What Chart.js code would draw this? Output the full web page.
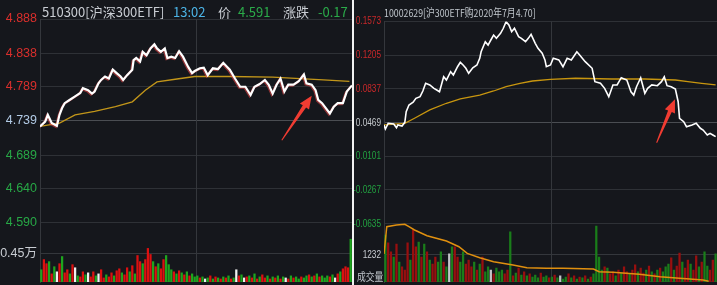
<!DOCTYPE html>
<html>
<head>
<meta charset="utf-8">
<script src="https://cdn.jsdelivr.net/npm/chart.js@4.4.1/dist/chart.umd.min.js"></script>
<style>
  body { margin: 0; background: #15171c; width: 717px; height: 285px; overflow: hidden; position: relative; }
  .panel { position: absolute; top: 0; height: 285px; overflow: hidden; }
  .t { position: absolute; white-space: nowrap; font-family: "Noto Sans CJK SC", "Noto Sans", sans-serif; }
</style>
</head>
<body>
<div class="panel" style="left:0;width:352px">
  <canvas id="leftChart" width="352" height="285"></canvas>
  <span class="t" style="left:42px;top:2px;font-size:13px;color:#c9cdd3">510300[沪深300ETF]</span>
  <span class="t" style="left:173px;top:2px;font-size:13px;color:#4cb4e6">13:02</span>
  <span class="t" style="left:218px;top:2px;font-size:13px;color:#c9cdd3">价</span>
  <span class="t" style="left:238px;top:2px;font-size:13px;color:#2bab4a">4.591</span>
  <span class="t" style="left:283px;top:2px;font-size:13px;color:#c9cdd3">涨跌</span>
  <span class="t" style="left:318px;top:2px;font-size:13px;color:#2bab4a">-0.17</span>
</div>
<div style="position:absolute;left:352px;top:0;width:2px;height:285px;background:#f2f2f2"></div>
<div class="panel" style="left:354px;width:363px">
  <canvas id="rightChart" width="363" height="285"></canvas>
  <span class="t" style="left:30px;top:4px;font-size:11px;color:#c0c6cc;transform:scaleX(0.8);transform-origin:left">10002629[沪300ETF购2020年7月4.70]</span>
  <span class="t" style="left:3px;top:268px;font-size:11px;color:#c0c6cc;transform:scaleX(0.8);transform-origin:left">成交量</span>
</div>
<script>
// ---- 510300 沪深300ETF 分时 ----
const leftPreClose = 4.739;
const leftTicks = [4.888, 4.838, 4.789, 4.739, 4.689, 4.640, 4.590];
const leftMin = [0,4,6,9,13,15,17,19,23,27,31,33,37,40,42,45,47,50,53,56,59,62,64,67,71,72,74,77,79,82,85,88,90,93,96,98,101,104,107,110,114,117,119,123,126,129,133,137,141,144,146,150,154,158,162,165,169,173,176,179,182,185,188,191,195,199,203,205,209,212,214,217,219,223,226,229,233,236,240];
const leftPrice = [4.731,4.738,4.748,4.736,4.732,4.748,4.758,4.765,4.770,4.775,4.780,4.787,4.784,4.779,4.782,4.794,4.799,4.804,4.801,4.814,4.809,4.804,4.799,4.806,4.814,4.828,4.831,4.826,4.840,4.835,4.845,4.851,4.845,4.840,4.845,4.831,4.833,4.831,4.841,4.833,4.818,4.809,4.812,4.816,4.817,4.806,4.816,4.815,4.824,4.818,4.814,4.801,4.789,4.789,4.777,4.789,4.793,4.799,4.792,4.779,4.792,4.801,4.782,4.792,4.792,4.797,4.807,4.794,4.792,4.784,4.770,4.765,4.760,4.750,4.760,4.765,4.765,4.782,4.791];
const leftAvgMin = [0,15,27,42,58,71,81,90,104,119,146,179,200,218,238];
const leftAvg = [4.731,4.736,4.748,4.753,4.760,4.767,4.784,4.796,4.800,4.804,4.804,4.803,4.801,4.799,4.797];
// 成交量, 每2分钟一根
const leftVol = [1900,3480,2840,3160,1260,2370,1580,2840,3950,1420,
  1900,1260,2690,2210,950,790,1580,1110,1420,790,
  1580,950,1260,1900,630,1110,790,1420,950,1740,
  2050,1420,1110,2210,1580,2530,1260,4110,3160,2840,
  3480,5210,4270,3160,2370,2840,2050,3480,4110,2690,
  1900,1580,1260,1740,1420,1110,1580,950,1260,790,
  950,630,790,470,630,950,470,790,630,470,
  790,630,950,470,630,1900,950,1110,630,790,
  950,630,1260,470,790,1110,630,950,470,790,
  630,950,470,790,630,470,950,630,790,470,
  790,630,950,1110,790,950,1260,790,950,630,
  950,790,1110,630,1260,1580,2050,2370,2210,6640];
// r = 涨, g = 跌, w = 平
const leftDir = ('grrgrgwrgr' + 'rgrwgrrgwr' + 'rgwrrgrrgr' + 'rgrrgrgrrg' + 'rrrgrgrrgg' +
  'grgrgrgrgg' + 'grgwgrgrgr' + 'grgrgwrgwr' + 'grgrgrrgrg' + 'rgrgwrgrgg' +
  'rggrgrgrgg' + 'grgwrgrrrg').split('');
const leftVolTick = 4500, leftVolLabel = '0.45万';
const leftArrow = { from: [186, 4.711], to: [209, 4.776] };

// ---- 10002629 沪300ETF购2020年7月4.70 ----
const rightPreClose = 0.0469;
const rightTicks = [0.1573, 0.1205, 0.0837, 0.0469, 0.0101, -0.0267, -0.0635];
const rightMin = [0,1,3,7,9,10,13,15,16,18,21,23,26,28,30,33,36,38,40,43,45,48,50,53,55,57,59,61,64,67,69,70,73,75,77,79,81,84,86,88,90,92,94,97,99,102,104,106,109,111,114,116,117,120,122,126,129,132,135,139,141,145,150,152,156,159,162,165,168,171,175,178,180,182,185,188,190,193,197,200,202,204,207,210,212,213,216,218,222,225,228,230,233,235,237,239];
const rightPrice = [0.0442,0.0398,0.0460,0.0453,0.0412,0.0442,0.0431,0.0471,0.0587,0.0660,0.0690,0.0733,0.0751,0.0813,0.0897,0.0879,0.0842,0.0824,0.0805,0.0969,0.0933,0.1024,0.0988,0.1078,0.1126,0.1097,0.1061,0.1006,0.1067,0.1097,0.1170,0.1242,0.1351,0.1315,0.1370,0.1424,0.1388,0.1443,0.1498,0.1570,0.1534,0.1461,0.1498,0.1406,0.1388,0.1351,0.1388,0.1432,0.1334,0.1279,0.1225,0.1152,0.1078,0.1097,0.1170,0.1152,0.1078,0.1170,0.1152,0.1242,0.1206,0.1133,0.1061,0.0915,0.0897,0.0842,0.0751,0.0879,0.0879,0.0958,0.0933,0.0805,0.0769,0.0860,0.0958,0.0788,0.0842,0.0879,0.0871,0.0915,0.0969,0.0871,0.0860,0.0835,0.0696,0.0515,0.0478,0.0423,0.0442,0.0460,0.0406,0.0387,0.0333,0.0351,0.0333,0.0314];
const rightAvgMin = [0,15,22,33,45,55,69,79,88,98,107,120,138,164,188,210,219,229,239];
const rightAvg = [0.0442,0.0460,0.0515,0.0606,0.0679,0.0726,0.0769,0.0813,0.0860,0.0897,0.0922,0.0941,0.0952,0.0944,0.0944,0.0933,0.0915,0.0897,0.0879];
// 持仓量
const rightOiMin = [0,2,9,15,18,22,31,45,54,60,69,79,93,103,117,129,151,155,165,184,199,213,230,234];
const rightOi = [1400,2760,2845,2880,2760,2595,2310,2046,1760,1430,1210,1013,848,714,684,684,649,514,484,384,264,185,100,40];
const rightVol = [2090,1740,1340,1110,1690,890,670,530,1740,980,
  2310,1560,1780,1110,1690,1340,980,800,1110,890,
  1340,890,670,1250,1560,1560,1110,890,1340,800,
  980,670,890,530,800,1110,450,670,530,360,
  620,450,530,360,530,2230,270,400,620,310,
  450,270,360,220,310,180,400,220,270,180,
  220,310,180,270,130,220,360,180,270,130,
  220,180,270,130,220,360,2490,1110,530,670,
  620,360,450,270,530,400,670,450,360,530,
  760,450,620,400,530,710,450,360,530,620,
  450,670,800,1070,530,710,1290,890,620,980,
  800,530,1160,670,890,1340,710,530,980,1250];
const rightDir = ('grrgrgrrrg' + 'rrgrgrgrrg' + 'grgwgrrggr' + 'rrgrgrggwr' + 'gggrrgrgrg' +
  'rgrgggrggr' + 'grgwggrgrg' + 'rgrgrggggr' + 'grrgrgrrgr' + 'rgrrgrgrgr' +
  'gggrgrrgrr' + 'grrgrggrrg').split('');
const rightVolTick = 1232, rightVolLabel = '1232';
const rightArrow = { from: [196.5, 0.0248], to: [209.7, 0.0722] };

const pts = (xs, ys) => xs.map((x, i) => ({ x: x, y: ys[i] }));
const bars = vs => vs.map((v, i) => ({ x: 2 * i + 1, y: v }));

function drawArrow(ctx, x0, y0, x1, y1) {
  const dx = x1 - x0, dy = y1 - y0, len = Math.hypot(dx, dy);
  const ux = dx / len, uy = dy / len, nx = -uy, ny = ux;
  const headLen = 13, headW = 5.5;
  const bx = x1 - ux * headLen, by = y1 - uy * headLen;
  ctx.beginPath();
  ctx.moveTo(x0 + nx * 0.5, y0 + ny * 0.5);
  ctx.lineTo(bx + nx * 2, by + ny * 2);
  ctx.lineTo(bx + nx * headW, by + ny * headW);
  ctx.lineTo(x1, y1);
  ctx.lineTo(bx - nx * headW, by - ny * headW);
  ctx.lineTo(bx - nx * 2, by - ny * 2);
  ctx.lineTo(x0 - nx * 0.5, y0 - ny * 0.5);
  ctx.closePath();
  ctx.fill();
}

// 中线, 成交量刻度线, 箭头, 价格线红色描边, 压缩的刻度文字
const decor = {
  id: 'decor',
  beforeDatasetsDraw(chart, args, o) {
    const { ctx, chartArea: a, scales } = chart;
    ctx.save();
    ctx.strokeStyle = '#34373c';
    ctx.lineWidth = 1;
    const mx = Math.round(scales.x.getPixelForValue(120)) + 0.5;
    ctx.beginPath(); ctx.moveTo(mx, a.top); ctx.lineTo(mx, a.bottom); ctx.stroke();
    const vy = Math.round(scales.yVol.getPixelForValue(o.volTick)) + 0.5;
    ctx.beginPath(); ctx.moveTo(a.left, vy); ctx.lineTo(a.right, vy); ctx.stroke();
    const by = Math.round(a.bottom) - 0.5;
    ctx.beginPath(); ctx.moveTo(a.left, by); ctx.lineTo(a.right, by); ctx.stroke();
    ctx.fillStyle = '#c8ccd2';
    ctx.font = o.font;
    ctx.textAlign = 'right';
    ctx.textBaseline = 'middle';
    const lx = a.left - 3;
    ctx.translate(lx, vy);
    ctx.scale(o.squeeze, 1);
    ctx.fillText(o.volLabel, 0, 0);
    ctx.restore();
    if (o.drawTicks) {
      const y = scales.y;
      ctx.save();
      ctx.font = o.font;
      ctx.textAlign = 'right';
      ctx.textBaseline = 'middle';
      y.ticks.forEach(t => {
        ctx.save();
        ctx.fillStyle = o.tickColor(t.value);
        ctx.translate(lx, y.getPixelForValue(t.value));
        ctx.scale(o.squeeze, 1);
        ctx.fillText(t.value.toFixed(o.digits), 0, 0);
        ctx.restore();
      });
      ctx.restore();
    }
  },
  beforeDatasetDraw(chart, args, o) {
    if (o.shadow && args.index === 0) {
      const ctx = chart.ctx;
      ctx.save();
      ctx.shadowColor = 'rgba(225,70,70,0.6)';
      ctx.shadowOffsetX = -1;
      ctx.shadowOffsetY = 1;
    }
  },
  afterDatasetDraw(chart, args, o) {
    if (o.shadow && args.index === 0) chart.ctx.restore();
  },
  afterDatasetsDraw(chart, args, o) {
    const { ctx, scales } = chart;
    const ar = o.arrow;
    ctx.save();
    ctx.fillStyle = '#f03c32';
    drawArrow(ctx,
      scales.x.getPixelForValue(ar.from[0]), scales.y.getPixelForValue(ar.from[1]),
      scales.x.getPixelForValue(ar.to[0]), scales.y.getPixelForValue(ar.to[1]));
    ctx.restore();
  }
};

function makePanel(canvasId, p) {
  const datasets = [
    { type: 'line', data: pts(p.min, p.price), yAxisID: 'y', borderColor: '#ffffff', borderWidth: p.lineW,
      pointRadius: 0, tension: 0, order: 0 },
    { type: 'line', data: pts(p.avgMin, p.avg), yAxisID: 'y', borderColor: p.avgColor, borderWidth: 1.3,
      pointRadius: 0, tension: 0, order: 1 },
    { type: 'bar', data: bars(p.vol), yAxisID: 'yVol', barThickness: 1.6, order: 5,
      backgroundColor: ctx => p.volColors[p.dir[ctx.dataIndex]] }
  ];
  if (p.oi) {
    datasets.push({ type: 'line', data: pts(p.oiMin, p.oi), yAxisID: 'yOI', borderColor: '#e0900f', borderWidth: 1.5,
      pointRadius: 0, tension: 0, order: 2 });
  }
  const colorFor = v => Math.abs(v - p.pre) < 1e-6 ? p.flatColor : (v > p.pre ? p.upColor : p.downColor);
  return new Chart(document.getElementById(canvasId), {
    type: 'bar',
    data: { datasets: datasets },
    options: {
      responsive: false,
      animation: false,
      events: [],
      layout: { padding: { top: p.top, bottom: p.bottom, left: 0, right: 0 } },
      plugins: {
        legend: { display: false },
        tooltip: { enabled: false },
        decor: {
          volTick: p.volTick, volLabel: p.volLabel, font: p.font, arrow: p.arrow, shadow: p.shadow,
          squeeze: p.squeeze, drawTicks: p.squeeze < 1, tickColor: colorFor, digits: p.digits
        }
      },
      scales: {
        x: { type: 'linear', min: 0, max: 240, offset: false, display: false },
        y: {
          position: 'left', min: p.yMin, max: p.yMax,
          afterBuildTicks: s => { s.ticks = p.ticks.map(v => ({ value: v })); },
          afterFit: s => { s.width = p.axisW; s.paddingTop = 0; s.paddingBottom = 0; },
          ticks: {
            display: p.squeeze === 1,
            autoSkip: false, padding: 3,
            font: { family: p.fontFamily, size: p.fontSize },
            color: c => colorFor(c.tick.value),
            callback: v => v.toFixed(p.digits)
          },
          grid: {
            drawTicks: false,
            color: c => Math.abs(c.tick.value - p.pre) < 1e-6 ? '#4a4d52' : '#2e3136'
          },
          border: { display: true, color: '#34373c' }
        },
        yVol: { display: false, min: 0, max: p.volMax },
        yOI: { display: false, min: 0, max: 13000 }
      }
    },
    plugins: [decor]
  });
}

makePanel('leftChart', {
  min: leftMin, price: leftPrice, avgMin: leftAvgMin, avg: leftAvg,
  vol: leftVol, dir: leftDir, volColors: { r: '#dc1010', g: '#1ea51e', w: '#f0f0f0' },
  ticks: leftTicks, pre: leftPreClose, digits: 3,
  yMax: 4.888, yMin: 4.888 - 263 / 34 * 0.04967,
  volMax: 4500 * 263 / 29, volTick: leftVolTick, volLabel: leftVolLabel,
  top: 19, bottom: 3, axisW: 40, lineW: 2.2, avgColor: '#c2961a', shadow: true, squeeze: 1,
  fontFamily: '"Liberation Sans", Arial, sans-serif', fontSize: 12.5,
  font: '12.5px "Liberation Sans", "Noto Sans CJK SC", sans-serif',
  upColor: '#da2f2c', downColor: '#27a846', flatColor: '#b2cbe6',
  arrow: leftArrow
});

makePanel('rightChart', {
  min: rightMin, price: rightPrice, avgMin: rightAvgMin, avg: rightAvg,
  oiMin: rightOiMin, oi: rightOi,
  vol: rightVol, dir: rightDir, volColors: { r: '#980f0f', g: '#1a7d1a', w: '#c4c4c8' },
  ticks: rightTicks, pre: rightPreClose, digits: 4,
  yMax: 0.1573, yMin: 0.1573 - (282 - 21.4) * 0.0368 / 33.7,
  volMax: 1232 * 260.6 / 27.7, volTick: rightVolTick, volLabel: rightVolLabel,
  top: 21.4, bottom: 3, axisW: 30, lineW: 1.6, avgColor: '#c8960f', shadow: false, squeeze: 0.75,
  fontFamily: '"Liberation Sans", sans-serif', fontSize: 11,
  font: '11px "Liberation Sans", sans-serif',
  upColor: '#c8282a', downColor: '#22a040', flatColor: '#c4c8cc',
  arrow: rightArrow
});
</script>
</body>
</html>
